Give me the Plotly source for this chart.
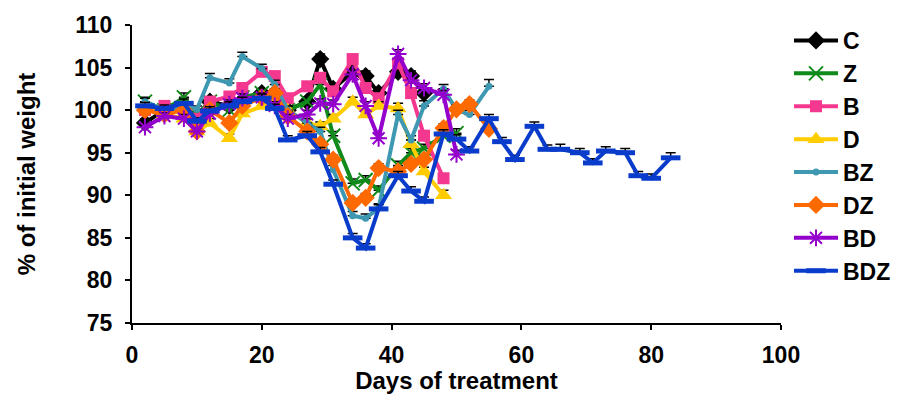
import plotly.graph_objects as go

DAYS = [2, 5, 8, 10, 12, 15, 17, 20, 22, 24, 27, 29, 31, 34, 36, 38, 41, 43, 45, 48,
        50, 52, 55, 57, 59, 62, 64, 66, 69, 71, 73, 76, 78, 80, 83]

C = [98.5, 100, 100.5, 99, 101, 100.5, 101, 102, 102, 100, 101, 106, 102.5, 104.5, 104, 102, 104.5, 104, 102]
C_ERR = [0.5, 0.4, 0.5, 0.4, 0.5, 0.4, 0.5, 0.5, 0.4, 0.5, 0.5, 0.6, 0.5, 0.5, 0.6, 0.5, 0.5, 0.6, 0.5]

Z = [101, 100, 101.5, 99.5, 101, 100, 101.5, 102, 101, 100, 101, 103, 97, 91.4, 91.8, 90.6, 93.5, 95, 95.5, 97, 97.3]
Z_ERR = [0.5, 0.4, 0.5, 0.4, 0.5, 0.4, 0.5, 0.5, 0.4, 0.5, 0.5, 0.5, 0.5, 0.5, 0.5, 0.5, 0.5, 0.5, 0.5, 0.5, 0.5]

B = [100, 100.5, 100, 99, 101, 101.6, 102.6, 104.5, 104, 101.4, 102.8, 103.8, 102.2, 106, 102.6, 101.4, 105.5, 102, 97, 92]
B_ERR = [0.4, 0.4, 0.5, 0.4, 0.5, 0.5, 0.5, 0.5, 0.5, 0.5, 0.5, 0.5, 0.5, 0.5, 0.5, 0.5, 0.5, 0.6, 0.5, 0.5]

D = [100.5, 99.5, 99, 97.5, 98.5, 96.7, 99.6, 100.5, 101, 100, 98.5, 98.1, 99, 101, 99.5, 100.5, 100.2, 96, 92.8, 90]
D_ERR = [0.4, 0.4, 0.5, 0.4, 0.5, 0.5, 0.5, 0.5, 0.5, 0.5, 0.5, 0.5, 0.5, 0.5, 0.5, 0.5, 0.6, 0.5, 0.5, 0.6]

BZ = [101, 100, 100.5, 100.1, 103.8, 103.2, 106.3, 104.9, 103, 100, 98.5, 97.5, 93, 87.6, 87.3, 88.5, 99.5, 96.5, 100.5, 102.5, 100, 99.5, 102.8]
BZ_ERR = [0.4, 0.4, 0.5, 0.4, 0.5, 0.5, 0.5, 0.5, 0.5, 0.5, 0.5, 0.5, 0.5, 0.5, 0.5, 0.5, 0.5, 0.5, 0.6, 0.5, 0.5, 0.5, 0.8]

DZ = [100, 99.5, 100, 97.5, 100, 98.5, 100.5, 101.5, 102, 99.3, 97.5, 96, 94.2, 89.1, 89.7, 93.2, 92.8, 93.7, 94.2, 97.9, 100.1, 100.7, 97.8]
DZ_ERR = [0.4, 0.4, 0.5, 0.4, 0.5, 0.5, 0.5, 0.5, 0.5, 0.5, 0.5, 0.5, 0.5, 0.5, 0.5, 0.5, 0.5, 0.5, 0.5, 0.5, 0.5, 0.5, 0.5]

BD = [98, 99.3, 99, 97.5, 99.6, 100.7, 101.4, 101.5, 100.5, 99, 99.5, 100.8, 100.7, 104.2, 100.5, 96.7, 106.6, 103.5, 102.6, 101.8, 94.8]
BD_ERR = [0.4, 0.4, 0.5, 0.4, 0.5, 0.5, 0.5, 0.5, 0.5, 0.5, 0.5, 0.5, 0.5, 0.5, 0.5, 0.5, 0.5, 0.5, 0.5, 0.5, 0.5]

BDZ = [100.5, 100.2, 100.8, 98.7, 99.9, 100.5, 101, 101.4, 100.2, 96.5, 97, 95.1, 91.3, 85, 83.8, 88.4, 92.3,
       90.5, 89.3, 97.2, 96.6, 95.2, 99, 96.3, 94.2, 98.1, 95.4, 95.4, 95, 93.8, 95.2, 95, 92.3, 92, 94.4]
BDZ_ERR = [0.4, 0.4, 0.5, 0.4, 0.5, 0.5, 0.5, 0.5, 0.5, 0.5, 0.5, 0.5, 0.5, 0.5, 0.5, 0.5, 0.5,
           0.5, 0.5, 0.5, 0.5, 0.5, 0.5, 0.5, 0.5, 0.5, 0.5, 0.6, 0.5, 0.5, 0.5, 0.5, 0.5, 0.5, 0.6]

SERIES = [
    ("C", C, C_ERR, "#000000", "diamond", 14, None),
    ("Z", Z, Z_ERR, "#108a1a", "x-thin", 14, 2),
    ("B", B, B_ERR, "#f5388f", "square", 12, None),
    ("D", D, D_ERR, "#ffcc00", "triangle-up", 15, None),
    ("BZ", BZ, BZ_ERR, "#3f98b2", "circle", 7, None),
    ("DZ", DZ, DZ_ERR, "#ff6a00", "diamond", 14, None),
    ("BD", BD, BD_ERR, "#9400cc", "asterisk", 14, 2),
    ("BDZ", BDZ, BDZ_ERR, "#0a3ccc", "line-ew", 14, 5),
]

FONT = "Arial, Liberation Sans, sans-serif"
TICKF = dict(family=FONT, size=23, color="black", weight="bold")
TITLEF = dict(family=FONT, size=24, color="black", weight="bold")
LEGF = dict(family=FONT, size=23, color="black", weight="bold")

fig = go.Figure()
for name, vals, err, color, sym, size, lw in SERIES:
    marker = dict(symbol=sym, size=size, color=color)
    if lw is not None:
        marker["line"] = dict(color=color, width=lw)
    fig.add_trace(go.Scatter(
        x=DAYS[:len(vals)], y=vals, name=name, mode="lines+markers",
        legendgroup=name,
        line=dict(color=color, width=4),
        marker=marker,
        error_y=dict(type="data", array=err, arrayminus=[0] * len(err),
                     color="black", thickness=1.5, width=5),
    ))

fig.update_layout(
    width=897, height=394,
    margin=dict(l=132, r=116, t=25, b=71),
    paper_bgcolor="white", plot_bgcolor="white",
    font=dict(family=FONT, size=20, color="black", weight="bold"),
    legend=dict(xref="container", yref="container",
                x=0.8796, y=0.9518, xanchor="left", yanchor="top",
                font=LEGF, maxheight=380,
                itemwidth=44, tracegroupgap=0, bgcolor="rgba(0,0,0,0)"),
    xaxis=dict(range=[0, 100], tickvals=[0, 20, 40, 60, 80, 100],
               showline=True, linecolor="black", linewidth=2,
               ticks="outside", ticklen=5, tickwidth=2, tickcolor="black",
               showgrid=False, zeroline=False, ticklabelstandoff=5,
               tickfont=TICKF, automargin=False,
               title=dict(text="Days of treatment", standoff=2, font=TITLEF)),
    yaxis=dict(range=[75, 110], tickvals=[75, 80, 85, 90, 95, 100, 105, 110],
               showline=True, linecolor="black", linewidth=2,
               ticks="outside", ticklen=5, tickwidth=2, tickcolor="black",
               showgrid=False, zeroline=False, ticklabelstandoff=8,
               tickfont=TICKF, automargin=False,
               title=dict(text="% of initial weight", standoff=32, font=TITLEF)),
)

fig.write_html("out.html")
